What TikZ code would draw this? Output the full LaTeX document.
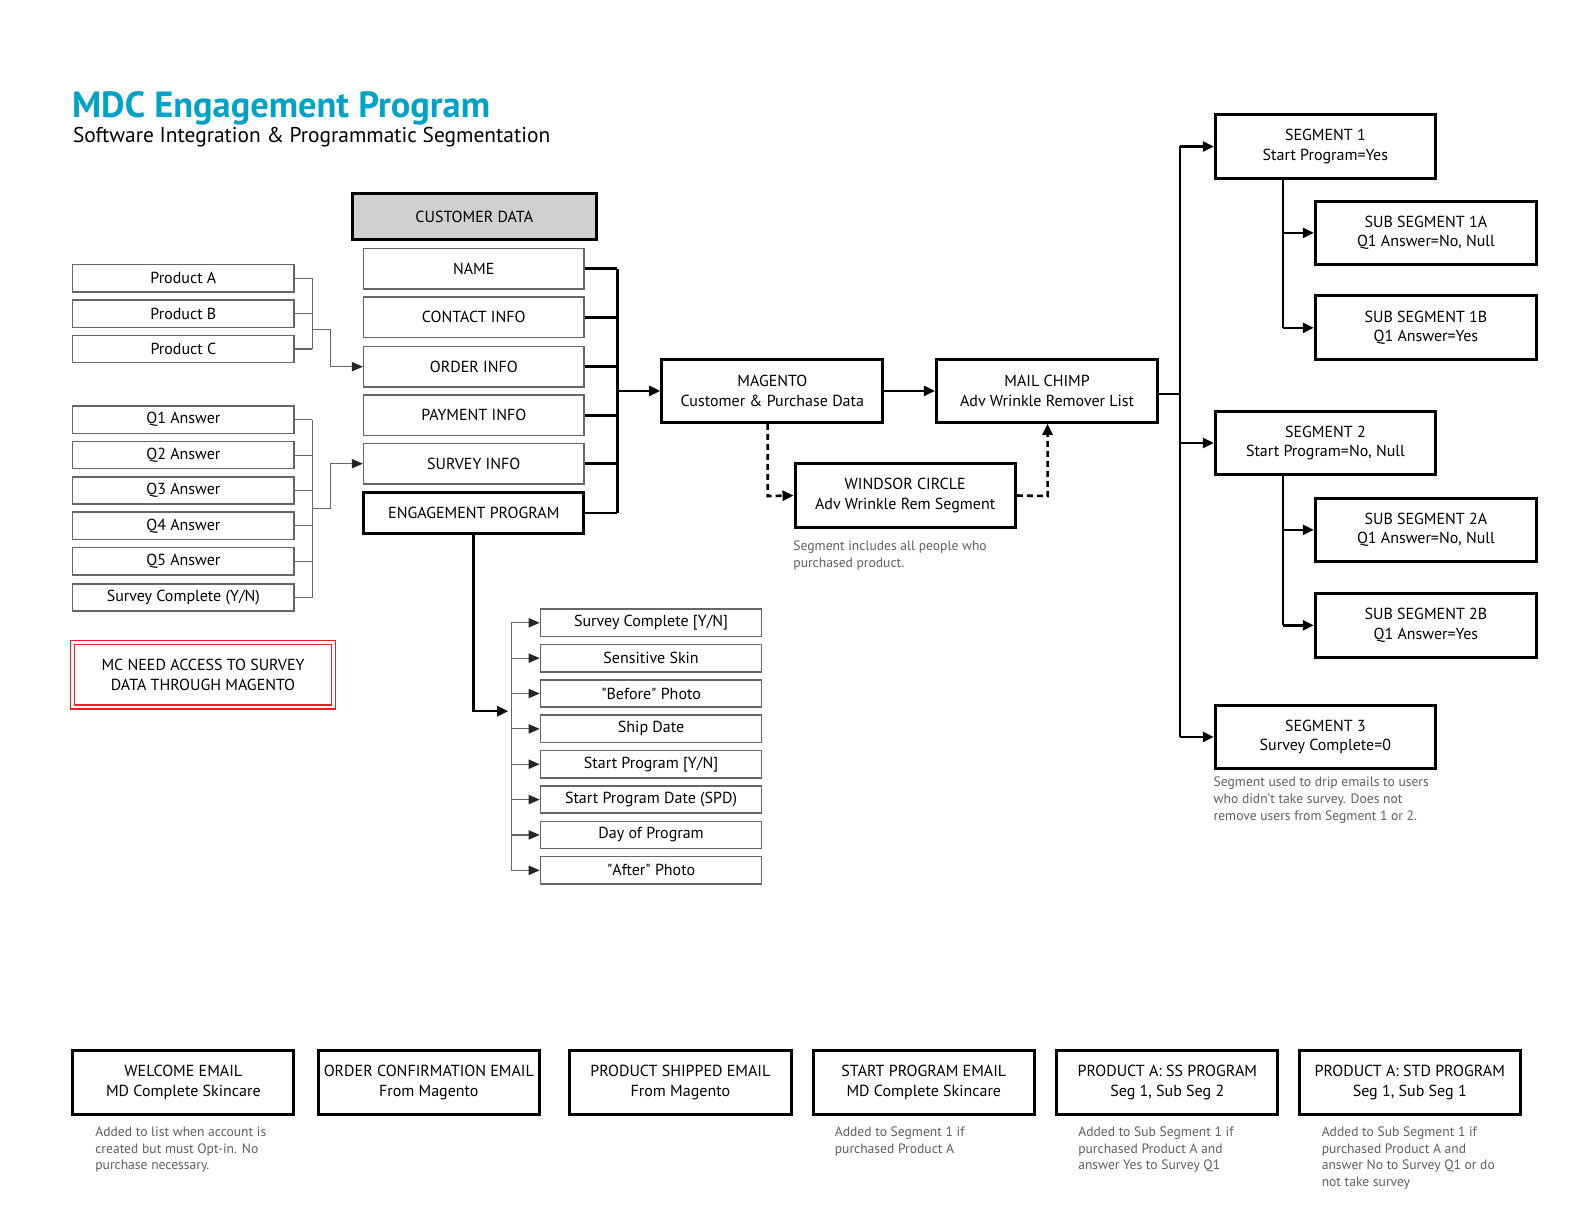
\documentclass[tikz,border=0pt]{standalone}
\usepackage{fontspec}
\setmainfont{PT Sans}
\usetikzlibrary{arrows.meta,calc}
\definecolor{titleblue}{RGB}{0,163,200}
\definecolor{notegray}{RGB}{95,95,95}
\definecolor{hdrgray}{RGB}{208,208,208}
\definecolor{alertred}{RGB}{235,30,35}
\newcommand\mdclbl{\fontsize{8}{9.6}\selectfont}
\newcommand\mdcnote{\fontsize{6.8}{8.3}\selectfont}
\newcommand\mdcbox[7]{\node[#6, minimum width={(#4-#2)*0.5051pt}, minimum height={(#5-#3)*0.5051pt}, inner sep=0pt] (#1) at ({(#2+#4)/2},{(#3+#5)/2}) {#7};}
\begin{document}
\begin{tikzpicture}[x=0.5051pt,y=-0.5051pt,
  thinbox/.style={draw=black!60, line width=0.75pt, font=\mdclbl, align=center},
  thickbox/.style={draw=black, line width=1.5pt, font=\mdclbl, align=center},
  hdrbox/.style={thickbox, fill=hdrgray},
  redbox/.style={draw=alertred, line width=0.7pt, double=white, double distance=1.3pt, font=\mdclbl, align=center},
  note/.style={font=\mdcnote, text=notegray, align=left, inner sep=0pt, anchor=north west},
  thickline/.style={draw=black, line width=1.3pt},
  thinline/.style={draw=black!60, line width=0.6pt},
  thickarrow/.style={thickline, -{Triangle[length=5.5pt,width=5pt]}},
  thinarrow/.style={thinline, -{Triangle[length=5.5pt,width=4.6pt,fill=black!85,color=black!85]}},
  dashline/.style={thickline, dash pattern=on 3pt off 2pt},
  dasharrow/.style={dashline, -{Triangle[length=5.5pt,width=5pt]}}
]
\useasboundingbox[fill=white] (0,0) rectangle (1568,1211.8);

% title
\node[anchor=base west, inner sep=0pt, font=\fontsize{18.2}{21}\selectfont\bfseries, text=titleblue] (title) at (71,116) {MDC Engagement Program};
\node[anchor=base west, inner sep=0pt, font=\fontsize{10.7}{12}\selectfont] (subtitle) at (72,141) {Software Integration \& Programmatic Segmentation};

% customer data column
\mdcbox{cdata}{349}{192}{590}{237}{hdrbox}{CUSTOMER DATA}
\mdcbox{name}{360}{246}{578}{286}{thinbox}{NAME}
\mdcbox{contact}{360}{294}{578}{334}{thinbox}{CONTACT INFO}
\mdcbox{order}{360}{343}{578}{383}{thinbox}{ORDER INFO}
\mdcbox{payment}{360}{391}{578}{431}{thinbox}{PAYMENT INFO}
\mdcbox{survey}{360}{439}{578}{479}{thinbox}{SURVEY INFO}
\mdcbox{engp}{360}{488}{578}{528}{thickbox}{ENGAGEMENT PROGRAM}

% products
\mdcbox{pa}{72}{262}{291}{289}{thinbox}{Product A}
\mdcbox{pb}{72}{297}{291}{324}{thinbox}{Product B}
\mdcbox{pc}{72}{332}{291}{359}{thinbox}{Product C}

% survey answers
\mdcbox{q1}{72}{402}{291}{429}{thinbox}{Q1 Answer}
\mdcbox{q2}{72}{437}{291}{464}{thinbox}{Q2 Answer}
\mdcbox{q3}{72}{472}{291}{499}{thinbox}{Q3 Answer}
\mdcbox{q4}{72}{507}{291}{534}{thinbox}{Q4 Answer}
\mdcbox{q5}{72}{542}{291}{569}{thinbox}{Q5 Answer}
\mdcbox{qs}{72}{578}{291}{605}{thinbox}{Survey Complete (Y/N)}

% red note
\mdcbox{mcneed}{72}{636}{330}{700}{redbox}{MC NEED ACCESS TO SURVEY\\DATA THROUGH MAGENTO}

% systems
\mdcbox{magento}{655}{356}{874}{418}{thickbox}{MAGENTO\\Customer \& Purchase Data}
\mdcbox{mailchimp}{927}{356}{1146}{418}{thickbox}{MAIL CHIMP\\Adv Wrinkle Remover List}
\mdcbox{windsor}{787}{459}{1005}{522}{thickbox}{WINDSOR CIRCLE\\Adv Wrinkle Rem Segment}
\node[note] (wnote) at (785,535) {Segment includes all people who\\purchased product.};

% segments
\mdcbox{seg1}{1203}{113}{1421}{177}{thickbox}{SEGMENT 1\\Start Program=Yes}
\mdcbox{sub1a}{1302}{199}{1521}{262}{thickbox}{SUB SEGMENT 1A\\Q1 Answer=No, Null}
\mdcbox{sub1b}{1302}{293}{1521}{356}{thickbox}{SUB SEGMENT 1B\\Q1 Answer=Yes}
\mdcbox{seg2}{1203}{407}{1421}{470}{thickbox}{SEGMENT 2\\Start Program=No, Null}
\mdcbox{sub2a}{1302}{493}{1521}{556}{thickbox}{SUB SEGMENT 2A\\Q1 Answer=No, Null}
\mdcbox{sub2b}{1302}{587}{1521}{651}{thickbox}{SUB SEGMENT 2B\\Q1 Answer=Yes}
\mdcbox{seg3}{1203}{698}{1421}{761}{thickbox}{SEGMENT 3\\Survey Complete=0}
\node[note] (s3note) at (1201,769) {Segment used to drip emails to users\\who didn't take survey. Does not\\remove users from Segment 1 or 2.};

% engagement list
\mdcbox{e1}{535}{603}{754}{630}{thinbox}{Survey Complete [Y/N]}
\mdcbox{e2}{535}{638}{754}{665}{thinbox}{Sensitive Skin}
\mdcbox{e3}{535}{673}{754}{700}{thinbox}{\textquotedbl Before\textquotedbl{} Photo}
\mdcbox{e4}{535}{708}{754}{735}{thinbox}{Ship Date}
\mdcbox{e5}{535}{743}{754}{770}{thinbox}{Start Program [Y/N]}
\mdcbox{e6}{535}{778}{754}{805}{thinbox}{Start Program Date (SPD)}
\mdcbox{e7}{535}{813}{754}{840}{thinbox}{Day of Program}
\mdcbox{e8}{535}{848}{754}{875}{thinbox}{\textquotedbl After\textquotedbl{} Photo}

% bottom emails
\mdcbox{b1}{72}{1040}{291}{1103}{thickbox}{WELCOME EMAIL\\MD Complete Skincare}
\mdcbox{b2}{315}{1040}{534}{1103}{thickbox}{ORDER CONFIRMATION EMAIL\\From Magento}
\mdcbox{b3}{564}{1040}{783}{1103}{thickbox}{PRODUCT SHIPPED EMAIL\\From Magento}
\mdcbox{b4}{805}{1040}{1024}{1103}{thickbox}{START PROGRAM EMAIL\\MD Complete Skincare}
\mdcbox{b5}{1046}{1040}{1265}{1103}{thickbox}{PRODUCT A: SS PROGRAM\\Seg 1, Sub Seg 2}
\mdcbox{b6}{1286}{1040}{1505}{1103}{thickbox}{PRODUCT A: STD PROGRAM\\Seg 1, Sub Seg 1}
\node[note] (n1) at (94,1115) {Added to list when account is\\created but must Opt-in. No\\purchase necessary.};
\node[note] (n4) at (826,1115) {Added to Segment 1 if\\purchased Product A};
\node[note] (n5) at (1067,1115) {Added to Sub Segment 1 if\\purchased Product A and\\answer Yes to Survey Q1};
\node[note] (n6) at (1308,1115) {Added to Sub Segment 1 if\\purchased Product A and\\answer No to Survey Q1 or do\\not take survey};

% ---- connectors ----
% customer data bus
\coordinate (cbus) at (611,387);
\foreach \n in {name,contact,order,payment,survey,engp}
  \draw[thickline] (\n.east) -- (\n.east -| cbus);
\draw[thickline] (name.east -| cbus) -- (engp.east -| cbus);
\draw[thickarrow] (cbus) -- (magento.west);

% products bus
\coordinate (pbus) at (309,326);
\coordinate (pjog) at (327,326);
\foreach \n in {pa,pb,pc}
  \draw[thinline] (\n.east) -- (\n.east -| pbus);
\draw[thinline] (pa.east -| pbus) -- (pc.east -| pbus);
\draw[thinarrow] (pbus) -- (pjog) -- (pjog |- order.west) -- (order.west);

% answers bus
\coordinate (qbus) at (309,503);
\coordinate (qjog) at (327,503);
\foreach \n in {q1,q2,q3,q4,q5,qs}
  \draw[thinline] (\n.east) -- (\n.east -| qbus);
\draw[thinline] (q1.east -| qbus) -- (qs.east -| qbus);
\draw[thinarrow] (qbus) -- (qjog) -- (qjog |- survey.west) -- (survey.west);

% magento -> mailchimp
\draw[thickarrow] (magento.east) -- (mailchimp.west);
\coordinate (wd) at (760,491);
\draw[dasharrow] (magento.south -| wd) -- (wd) -- (windsor.west);
\coordinate (wu) at (1037,491);
\draw[dasharrow] (windsor.east) -- (wu) -- (mailchimp.south -| wu);

% segments bus
\coordinate (sbus) at (1168,390);
\draw[thickline] (mailchimp.east |- sbus) -- (sbus);
\draw[thickline] (seg1.west -| sbus) -- (seg3.west -| sbus);
\draw[thickarrow] (seg1.west -| sbus) -- (seg1.west);
\draw[thickarrow] (seg2.west -| sbus) -- (seg2.west);
\draw[thickarrow] (seg3.west -| sbus) -- (seg3.west);

\coordinate (s1v) at (1270,177);
\draw[thickline] (s1v) -- (s1v |- sub1b.west);
\draw[thickarrow] (s1v |- sub1a.west) -- (sub1a.west);
\draw[thickarrow] (s1v |- sub1b.west) -- (sub1b.west);
\coordinate (s2v) at (1270,470);
\draw[thickline] (s2v) -- (s2v |- sub2b.west);
\draw[thickarrow] (s2v |- sub2a.west) -- (sub2a.west);
\draw[thickarrow] (s2v |- sub2b.west) -- (sub2b.west);

% engagement program -> list
\coordinate (ebus) at (506,704);
\coordinate (edown) at (469,704);
\draw[thickline, -{Triangle[length=5.5pt,width=5pt]}] (engp.south) -- (edown) -- ($(ebus)+(-3,0)$);
\draw[thinline] (ebus |- e1.west) -- (ebus |- e8.west);
\foreach \n in {e1,e2,e3,e4,e5,e6,e7,e8}
  \draw[thinarrow] (ebus |- \n.west) -- (\n.west);
\end{tikzpicture}
\end{document}
